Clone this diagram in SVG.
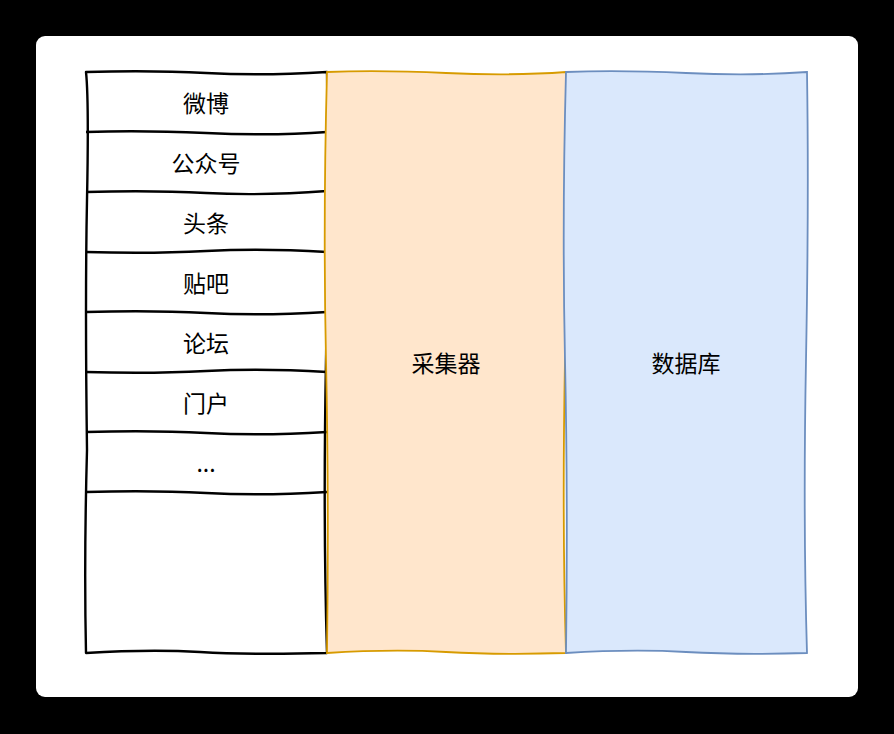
<svg xmlns="http://www.w3.org/2000/svg" width="894" height="734" viewBox="0 0 894 734">
<style>
.t{font-family:"Noto Sans CJK SC","Liberation Sans",sans-serif;font-size:23px;fill:#000;text-anchor:middle;dominant-baseline:central}
.k{fill:none;stroke:#000;stroke-width:2.4;stroke-linejoin:round}
.w{fill:#fff}
</style>
<rect x="0" y="0" width="894" height="734" fill="#000"/>
<rect x="36" y="36" width="822" height="661" rx="9" fill="#fff"/>
<g id="sources-box">
<rect x="86" y="72" width="241" height="581" class="w"/>
<path class="k" d="M86 72 Q150 70 206 73 T327 72 Q329 200 326 360 T327 653 Q250 655 200 652 T86 653 Q84 560 87 450 Q85 300 87 200 T86 72 Z"/>
</g>
<g id="row-weibo"><path class="k" d="M86 132 Q140 130 206 133 T327 132"/><text class="t" x="206" y="102">微博</text></g>
<g id="row-gzh"><path class="k" d="M86 192 Q150 190 206 193 T327 191"/><text class="t" x="206" y="162">公众号</text></g>
<g id="row-toutiao"><path class="k" d="M86 252 Q150 254 206 251 T327 252"/><text class="t" x="206" y="222">头条</text></g>
<g id="row-tieba"><path class="k" d="M86 312 Q150 310 206 313 T327 312"/><text class="t" x="206" y="282">贴吧</text></g>
<g id="row-luntan"><path class="k" d="M86 372 Q150 374 206 371 T327 372"/><text class="t" x="206" y="342">论坛</text></g>
<g id="row-menhu"><path class="k" d="M86 432 Q150 430 206 433 T327 432"/><text class="t" x="206" y="402">门户</text></g>
<g id="row-more"><path class="k" d="M86 492 Q150 490 206 493 T327 492"/><text class="t" x="206" y="462">...</text></g>
<g id="collector">
<path d="M327 72 Q380 70 446 73 T566 72 Q568 200 565 360 T566 653 Q500 655 446 652 T327 653 Q329 500 326 360 T327 72 Z" fill="#ffe6cc" stroke="#d79b00" stroke-width="1.8"/>
<text class="t" x="446" y="362">采集器</text>
</g>
<g id="database">
<path d="M566 72 Q620 70 686 73 T807 72 Q809 200 806 360 T807 653 Q740 655 686 652 T566 653 Q568 500 565 360 T566 72 Z" fill="#dae8fc" stroke="#6c8ebf" stroke-width="1.8"/>
<text class="t" x="686" y="362">数据库</text>
</g>
<g id="connectors"></g>
</svg>
